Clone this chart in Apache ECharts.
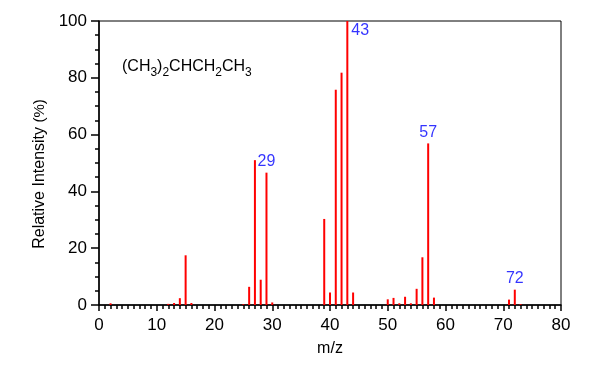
<!DOCTYPE html>
<html><head><meta charset="utf-8">
<script src="https://cdn.jsdelivr.net/npm/echarts@6/dist/echarts.min.js"></script>
<style>html,body{margin:0;padding:0;background:#fff}#c{width:600px;height:370px}</style>
</head><body><div id="c"></div>
<script>
const mz =        [2,   12,  13,  14,  15,   16,  25,  26,  27, 28,  29,  30,  39,   40,  41, 42, 43,  44,  50,  51,  52,  53,  54,  55,  56,   57,  58,  71,  72,  73];
const intensity = [0.6, 0.4, 0.7, 2.4, 17.5, 0.7, 0.3, 6.4, 51, 8.9, 46.6, 0.9, 30.3, 4.4, 75.8, 81.8, 100, 4.4, 2.0, 2.5, 0.6, 2.9, 0.6, 5.7, 16.8, 56.9, 2.6, 1.9, 5.4, 0.3];
const labeledPeaks = [29, 43, 57, 72];
const xTicks = [0, 10, 20, 30, 40, 50, 60, 70, 80];
const yTicks = [0, 20, 40, 60, 80, 100];

const FONT = 'Liberation Sans, Arial, sans-serif';
const peaks = mz.map((m, i) => [m, intensity[i]]);
const labelData = labeledPeaks.map(m => {
  const v = intensity[mz.indexOf(m)];
  return {
    value: [m, v],
    label: (m === 43)
      ? {position: 'right', distance: 4, offset: [0, 10]}
      : {position: 'top', distance: 3}
  };
});

const chart = echarts.init(document.getElementById('c'), null, {renderer: 'canvas'});
chart.setOption({
  animation: false,
  backgroundColor: '#fff',
  grid: {left: 99, right: 39, top: 21, bottom: 65, show: true, borderColor: '#000', borderWidth: 1},
  xAxis: {
    type: 'value', min: xTicks[0], max: xTicks[xTicks.length - 1], interval: 10,
    name: 'm/z', nameLocation: 'middle', nameGap: 36,
    nameTextStyle: {fontFamily: FONT, fontSize: 16, color: '#000'},
    axisLine: {onZero: false, lineStyle: {color: '#000', width: 1.5}},
    axisTick: {show: true, inside: false, length: 6, lineStyle: {color: '#000', width: 1.5}},
    minorTick: {show: true, splitNumber: 10, length: 4, lineStyle: {color: '#000', width: 1.5}},
    axisLabel: {fontFamily: FONT, fontSize: 17, color: '#000', margin: 12},
    splitLine: {show: false}
  },
  yAxis: {
    type: 'value', min: yTicks[0], max: yTicks[yTicks.length - 1], interval: 20,
    name: '{a|Relative Intensity }{b|(%)}', nameLocation: 'middle', nameGap: 51, nameRotate: 90,
    nameTextStyle: {
      fontFamily: FONT, fontSize: 16, color: '#000', padding: [0, 22, 0, 0],
      rich: {
        a: {fontFamily: FONT, fontSize: 16, color: '#000'},
        b: {fontFamily: FONT, fontSize: 15, color: '#000'}
      }
    },
    axisLine: {show: true, lineStyle: {color: '#000', width: 1.5}},
    axisTick: {show: true, inside: false, length: 8, lineStyle: {color: '#000', width: 1.5}},
    minorTick: {show: true, splitNumber: 4, length: 4, lineStyle: {color: '#000', width: 1.5}},
    axisLabel: {fontFamily: FONT, fontSize: 17, color: '#000', margin: 12},
    splitLine: {show: false}
  },
  graphic: [{
    type: 'text', left: 122, top: 59,
    style: {
      text: '{n|(CH}{s|3}{n|)}{s|2}{n|CHCH}{s|2}{n|CH}{s|3}',
      rich: {
        n: {fontFamily: FONT, fontSize: 16, color: '#000', lineHeight: 23, verticalAlign: 'middle'},
        s: {fontFamily: FONT, fontSize: 12, color: '#000', lineHeight: 23, verticalAlign: 'bottom'}
      }
    }
  }],
  series: [{
    type: 'custom',
    data: peaks,
    renderItem: function (params, api) {
      const x = api.value(0), y = api.value(1);
      const p0 = api.coord([x, 0]);
      const p1 = api.coord([x, y]);
      return {
        type: 'line',
        shape: {x1: p0[0], y1: p0[1], x2: p1[0], y2: p1[1]},
        style: {stroke: '#ff0000', lineWidth: 2}
      };
    },
    encode: {x: 0, y: 1}
  }, {
    type: 'scatter',
    data: labelData,
    symbolSize: 0,
    label: {show: true, formatter: p => String(p.value[0]), fontFamily: FONT, fontSize: 16, color: '#0000ff'},
    z: 5
  }]
});
</script>
</body></html>
